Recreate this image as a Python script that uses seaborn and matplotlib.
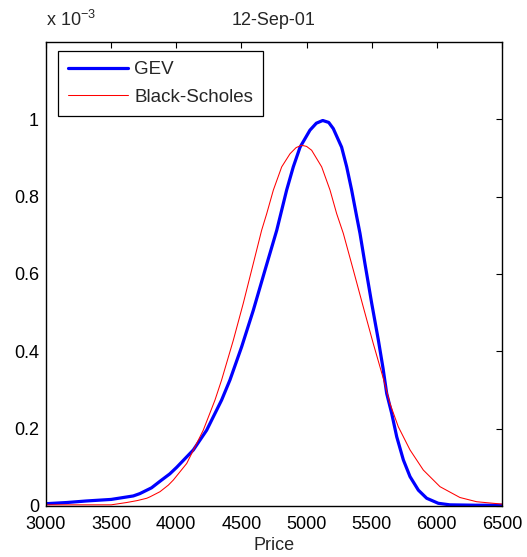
import matplotlib
matplotlib.use("Agg")
import matplotlib.pyplot as plt
import seaborn as sns
import pandas as pd

# Data (density in units of 1e-3)
gev_price = [3000, 3160, 3310, 3500, 3670, 3720, 3810, 3875, 3950, 4003, 4131, 4233, 4348,
             4412, 4502, 4591, 4681, 4771, 4847, 4898, 4950, 5026, 5075, 5124, 5170, 5205,
             5269, 5308, 5346, 5385, 5410, 5448, 5500, 5551, 5587, 5615, 5653, 5692, 5743,
             5794, 5858, 5922, 6011, 6100, 6300, 6500]
gev_density = [0.006, 0.009, 0.013, 0.017, 0.026, 0.032, 0.047, 0.064, 0.083, 0.100, 0.145, 0.196, 0.274,
               0.326, 0.412, 0.506, 0.610, 0.713, 0.817, 0.877, 0.928, 0.972, 0.990, 0.997, 0.992, 0.976,
               0.928, 0.877, 0.817, 0.748, 0.705, 0.627, 0.524, 0.429, 0.356, 0.291, 0.240, 0.179, 0.119,
               0.076, 0.041, 0.020, 0.007, 0.003, 0.002, 0.002]

bs_price = [3000, 3500, 3619, 3700, 3773, 3800, 3875, 3939, 3977, 4080, 4157, 4207, 4297,
            4348, 4438, 4514, 4591, 4655, 4694, 4745, 4809, 4873, 4920, 4962, 5000, 5039,
            5116, 5180, 5231, 5282, 5359, 5435, 5512, 5589, 5640, 5704, 5794, 5896, 6024,
            6177, 6306, 6433, 6500]
bs_density = [0.003, 0.003, 0.009, 0.014, 0.020, 0.024, 0.037, 0.054, 0.067, 0.110, 0.162, 0.196, 0.274,
              0.326, 0.429, 0.524, 0.627, 0.713, 0.756, 0.817, 0.877, 0.911, 0.927, 0.933, 0.930, 0.920,
              0.877, 0.817, 0.756, 0.705, 0.610, 0.515, 0.420, 0.330, 0.265, 0.205, 0.145, 0.093, 0.050,
              0.022, 0.011, 0.007, 0.005]

x_ticks = [3000, 3500, 4000, 4500, 5000, 5500, 6000, 6500]
y_ticks = [0, 0.2, 0.4, 0.6, 0.8, 1.0]
y_tick_labels = ["0", "0.2", "0.4", "0.6", "0.8", "1"]

sns.set_style("white")
plt.rcParams["font.family"] = ["Liberation Sans", "DejaVu Sans"]
plt.rcParams["mathtext.fontset"] = "custom"
plt.rcParams["mathtext.rm"] = "Liberation Sans"
plt.rcParams["mathtext.it"] = "Liberation Sans"

FS = 13

fig = plt.figure(figsize=(5.27, 5.57), dpi=100)
ax = fig.add_axes([46 / 527, 51 / 557, 456 / 527, 464 / 557])

gev_df = pd.DataFrame({"Price": gev_price, "Density": gev_density})
bs_df = pd.DataFrame({"Price": bs_price, "Density": bs_density})

sns.lineplot(data=gev_df, x="Price", y="Density", ax=ax, color="#0000ff", linewidth=2.3,
             label="GEV", sort=False)
sns.lineplot(data=bs_df, x="Price", y="Density", ax=ax, color="#ff0000", linewidth=0.75,
             label="Black-Scholes", sort=False)

ax.set_xlim(3000, 6500)
ax.set_ylim(0, 1.2)
ax.set_xticks(x_ticks)
ax.set_xticklabels([str(v) for v in x_ticks])
ax.set_yticks(y_ticks)
ax.set_yticklabels(y_tick_labels)
ax.tick_params(direction="in", length=4, width=0.8, top=True, right=True,
               labelsize=FS, colors="black")
ax.tick_params(axis="x", pad=7)
ax.tick_params(axis="y", pad=5)
for s in ax.spines.values():
    s.set_visible(True)
    s.set_color("black")
    s.set_linewidth(1.0)

ax.set_xlabel("Price", fontsize=FS, labelpad=3)
ax.set_ylabel("")
ax.set_title("12-Sep-01", fontsize=FS, pad=12)
ax.text(0.0, 1.025, r"x 10$^{-3}$", transform=ax.transAxes, fontsize=FS,
        ha="left", va="bottom")

leg = ax.legend(loc="upper left", bbox_to_anchor=(0.026, 0.981), fontsize=13.5,
                frameon=True, fancybox=False, handlelength=3.2, borderpad=0.55,
                labelspacing=0.55, handletextpad=0.32, borderaxespad=0)
leg.get_frame().set_edgecolor("black")
leg.get_frame().set_linewidth(0.9)
leg.get_frame().set_alpha(1)

fig.savefig("out.png", dpi=100)
